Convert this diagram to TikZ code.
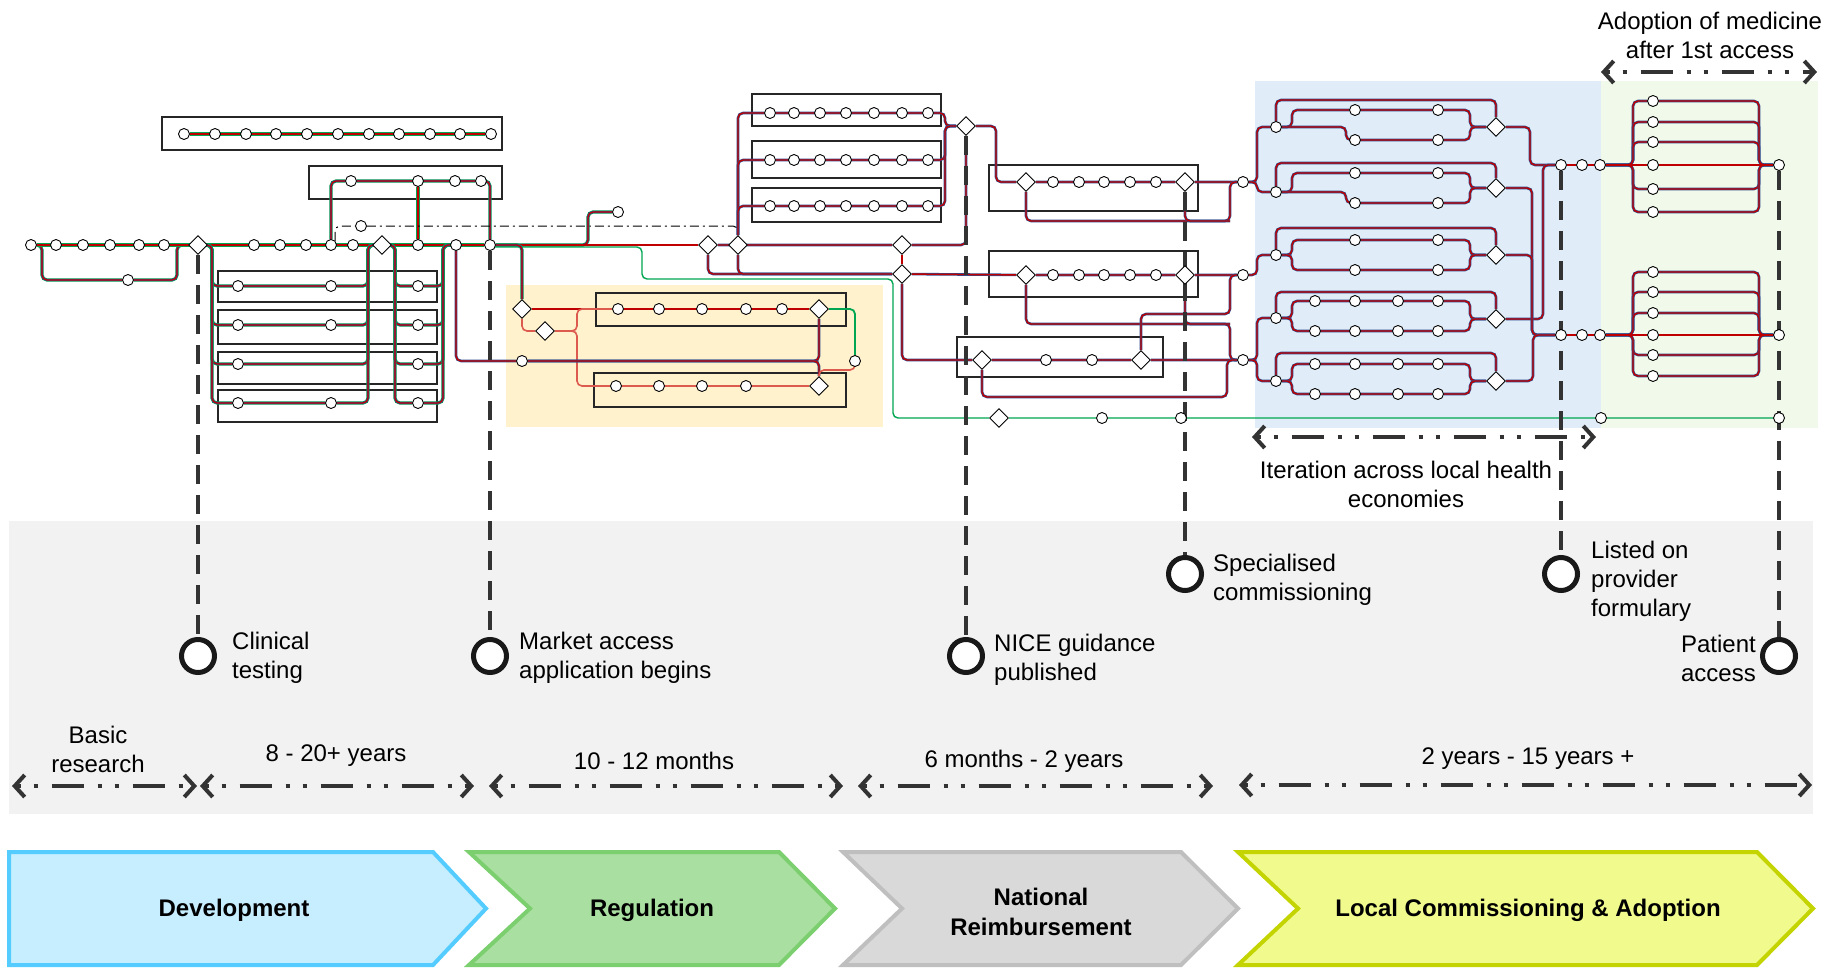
\documentclass[tikz,border=0pt]{standalone}
\usepackage{fontspec}
\setmainfont{Liberation Sans}
\usetikzlibrary{shapes.geometric,arrows.meta}
\definecolor{cnavy}{HTML}{2E4D8F}
\definecolor{cred}{HTML}{C00000}
\definecolor{cgreen}{HTML}{00A651}
\definecolor{csalmon}{HTML}{DC5A4E}
\definecolor{cdash}{HTML}{333333}
\definecolor{bandgrey}{HTML}{F2F2F2}
\definecolor{zoneyellow}{HTML}{FFF2CC}
\definecolor{zoneblue}{HTML}{E0ECF7}
\definecolor{zonegreen}{HTML}{F1F9EA}
\definecolor{devfill}{HTML}{C6EEFF}
\definecolor{devline}{HTML}{55CCFF}
\definecolor{regfill}{HTML}{A9DFA0}
\definecolor{regline}{HTML}{7CCF6E}
\definecolor{natfill}{HTML}{D9D9D9}
\definecolor{natline}{HTML}{BFBFBF}
\definecolor{locfill}{HTML}{F1FA8C}
\definecolor{locline}{HTML}{C3D400}
\pgfdeclarelayer{bg}
\pgfdeclarelayer{fg}
\pgfsetlayers{bg,main,fg}
\begin{document}
\begin{tikzpicture}[x=1pt,y=-1pt,
  stn/.style={circle,draw=black,line width=0.9pt,fill=white,inner sep=0pt,minimum size=11pt},
  dmd/.style={diamond,draw=black,line width=0.9pt,fill=white,inner sep=0pt,minimum width=19pt,minimum height=19pt},
  tri/.style={rounded corners=5pt,draw=cnavy,line width=2.2pt,preaction={draw=cgreen,line width=3.2pt},postaction={draw=cred,line width=1.2pt}},
  bi/.style={rounded corners=5pt,draw=cnavy,line width=2.6pt,postaction={draw=cred,line width=1.4pt}},
  rg/.style={rounded corners=5pt,draw=cgreen,line width=2.4pt,postaction={draw=cred,line width=1.1pt}},
  redl/.style={rounded corners=5pt,draw=csalmon,line width=1.6pt},
  grn/.style={rounded corners=5pt,draw=cgreen,line width=1.4pt},
  pbox/.style={draw=black!85,line width=1.1pt},
  dashdot/.style={draw=black,line width=1pt,rounded corners=5pt,dash pattern=on 9pt off 4pt on 2pt off 4pt},
  mline/.style={draw=cdash,line width=4pt,dash pattern=on 19pt off 11pt},
  mstone/.style={circle,draw=black!90,line width=5pt,fill=white,minimum size=33pt,inner sep=0pt},
  tspan/.style={draw=cdash,line width=4pt,dash pattern=on 4pt off 13pt on 4pt off 14pt on 32pt off 14pt,{Straight Barb[length=10pt,width=22pt]}-{Straight Barb[length=10pt,width=22pt]}},
  lbl/.style={font={\fontsize{24}{29}\selectfont},inner sep=0pt},
  phase/.style={line width=4pt,line join=miter},
  phaselbl/.style={font={\fontsize{24}{30}\selectfont\bfseries},align=center,inner sep=0pt}
]
\useasboundingbox (0,0) rectangle (1837,969);

% ---------- background zones ----------
\begin{pgfonlayer}{bg}
  \fill[bandgrey] (9,521) rectangle (1813,814);
  \fill[zoneyellow] (506,285) rectangle (883,427);
  \fill[zoneblue] (1255,81) rectangle (1601,428);
  \fill[zonegreen] (1601,81) rectangle (1818,428);
\end{pgfonlayer}

% ---------- stations and interchanges ----------
\begin{pgfonlayer}{fg}
  \foreach \n/\x/\y in {
    a1/31/245,a2/56/245,a3/83/245,a4/110/245,a5/139/245,a6/164/245,al/128/280,
    b1/254/245,b2/280/245,b3/306/245,b4/331/245,b5/353/245,b6/418/245,b7/456/245,b8/490/245,
    t1/184/134,t2/215/134,t3/246/134,t4/276/134,t5/307/134,t6/338/134,t7/369/134,t8/399/134,t9/430/134,t10/460/134,t11/491/134,
    c1/351/181,c2/418/181,c3/455/181,c4/481/181,dd1/361/226,
    r1a/238/286,r1b/331/286,r1c/418/286,
    r2a/238/325,r2b/331/325,r2c/418/325,
    r3a/238/364,r3c/418/364,
    r4a/238/403,r4b/331/403,r4c/418/403,
    sb/618/212,y0/522/361,yc/855/361,
    y1a/618/309,y1b/659/309,y1c/702/309,y1d/746/309,y1e/782/309,
    y2a/616/386,y2b/659/386,y2c/702/386,y2d/746/386,
    n1h/1243/182,n2h/1243/275,n3b/1046/360,n3c/1092/360,n3h/1243/360,
    g2/1102/418,g3/1181/418,g4/1601/418,g5/1779/418,
    h1/1276/127,h2/1276/192,h3/1276/255,h4/1276/318,h5/1276/381,
    o1/1561/165,o2/1582/165,o3/1600/165,o4/1561/335,o5/1582/335,o6/1600/335,
    p1/1653/101,p2/1653/122,p3/1653/142,p4/1653/165,p5/1653/189,p6/1653/212,
    p7/1653/272,p8/1653/292,p9/1653/313,p10/1653/335,p11/1653/355,p12/1653/376,
    q1/1779/165,q2/1779/335}
    \node[stn] (\n) at (\x,\y) {};
  \foreach \r/\y in {ta/113,tb/160,tc/206}
    \foreach \i/\x in {1/770,2/794,3/820,4/846,5/874,6/902,7/928}
      \node[stn] (\r\i) at (\x,\y) {};
  \foreach \r/\y in {n1/182,n2/275}
    \foreach \i/\x in {b/1053,c/1079,d/1104,e/1130,f/1156}
      \node[stn] (\r\i) at (\x,\y) {};
  \foreach \hb/\ym/\yl in {1/110/140,2/173/203,3/240/270} {
    \node[stn] (k\hb m1) at (1355,\ym) {};
    \node[stn] (k\hb m2) at (1438,\ym) {};
    \node[stn] (k\hb l1) at (1355,\yl) {};
    \node[stn] (k\hb l2) at (1438,\yl) {};
  }
  \foreach \hb/\ym/\yl in {4/301/331,5/364/394}
    \foreach \i/\x in {1/1315,2/1355,3/1398,4/1438} {
      \node[stn] (k\hb m\i) at (\x,\ym) {};
      \node[stn] (k\hb l\i) at (\x,\yl) {};
    }
  \foreach \n/\x/\y in {d1/198/245,d2/382/245,yd0/522/309,ydm/545/331,yd1/819/309,yd2/819/386,
    e1/708/245,e2/738/245,e3/902/245,e4/902/274,f0/966/126,n1a/1026/182,n1g/1185/182,
    n2a/1026/275,n2g/1185/275,n3a/982/360,n3d/1141/360,g1/999/418,
    D1/1496/127,D2/1496/188,D3/1496/255,D4/1496/319,D5/1496/381}
    \node[dmd] (\n) at (\x,\y) {};
\end{pgfonlayer}

% ---------- boxes grouping stations ----------
\draw[pbox] (162,117) rectangle (502,150);
\draw[pbox] (309,166) rectangle (502,199);
\foreach \ya/\yb in {271/302,310/344,352/384,390/422}
  \draw[pbox] (218,\ya) rectangle (437,\yb);
\draw[pbox] (596,293) rectangle (846,326);
\draw[pbox] (594,373) rectangle (846,407);
\draw[pbox] (752,94) rectangle (941,126);
\draw[pbox] (752,141) rectangle (941,178);
\draw[pbox] (752,188) rectangle (941,222);
\draw[pbox] (989,165) rectangle (1198,211);
\draw[pbox] (989,251) rectangle (1198,297);
\draw[pbox] (957,337) rectangle (1163,377);

% ---------- development lines ----------
\draw[tri] (t1) -- (t11);
\draw[tri] (a1) -- (42,245) |- (al) -- (177,280) |- (d1);
\draw[tri] (a1) -- (b8);
\draw[tri] (b4) |- (c1) -- (c4) -| (b8);
\draw[tri] (c2) -- (b6);
\draw[dashdot] (b4.north east) |- (dd1) -- (738,226) -- (e2);
\draw[tri] (d1) -- (212,245) |- (r1a) -- (r1b) -- (368,286) |- (d2);
\draw[tri] (d1) -- (212,245) |- (r2a) -- (r2b) -- (368,325) |- (d2);
\draw[tri] (d1) -- (212,245) |- (r3a) -- (368,364) |- (d2);
\draw[tri] (d1) -- (212,245) |- (r4a) -- (r4b) -- (368,403) |- (d2);
\foreach \c/\y in {r1c/286,r2c/325,r3c/364,r4c/403}
  \draw[tri] (d2) -- (395,245) |- (\c) -- (443,\y) |- (b7);
\draw[tri] (b8) -- (588,245) |- (sb);

% ---------- regulation lines ----------
\draw[bi] (b8) -- (e1);
\draw[grn] (b8) ++(0,2) -- (642,247) -- (642,279) -- (893,279) -- (893,418) -- (g1) -- (g2) -- (g3) -- (g4) -- (g5);
\draw[tri] (b8) -| (yd0);
\draw[rg] (yd0) -- (y1a) -- (y1e) -- (yd1);
\draw[redl] (yd0) |- (ydm);
\draw[redl] (ydm) -- (577,331) |- (y1a);
\draw[redl] (ydm) -- (577,331) |- (y2a);
\draw[redl] (y2a) -- (yd2);
\draw[bi] (b7) |- (y0);
\draw[bi] (y0) -| (yd1);
\draw[bi] (y0) -| (yd2);
\draw[grn,line width=1.8pt] (yd1) -| (yc);
\draw[redl] (yc) -- (855,370) -| (yd2);

% ---------- national reimbursement lines ----------
\draw[bi] (e1) -- (e3) -| (f0);
\draw[bi] (e1) |- (e4);
\draw[bi] (e2) |- (e4);
\draw[bi] (e3) -- (e4);
\draw[bi] (e2) |- (ta1) -- (ta7) -- (945,113) |- (f0);
\draw[bi] (e2) |- (tb1) -- (tb7) -- (945,160) |- (f0);
\draw[bi] (e2) |- (tc1) -- (tc7) -- (945,206) |- (f0);
\draw[bi] (f0) -- (996,126) |- (n1a) -- (n1g) -- (n1h);
\draw[bi] (n1a) |- (1230,221) |- (n1h);
\draw[bi] (n1g) |- (1230,221);
\draw[bi] (e4) -- (n2a) -- (n2g) -- (n2h);
\draw[bi] (n2a) |- (1230,324) |- (n3h);
\draw[bi] (n2g) |- (1230,324);
\draw[bi] (e4) |- (n3a) -- (n3d) -- (n3h);
\draw[bi] (n3d) |- (1230,314) |- (n2h);
\draw[bi] (n3a) |- (1227,397) |- (n3h);

% ---------- local health economies ----------
\draw[bi] (n1h) -- (1257,182) |- (h1);
\draw[bi] (n1h) -- (1257,182) |- (h2);
\draw[bi] (n2h) -- (1257,275) |- (h3);
\draw[bi] (n3h) -- (1257,360) |- (h4);
\draw[bi] (n3h) -- (1257,360) |- (h5);
% hubs with two stations per branch
\draw[bi] (h1) |- (1496,100) -- (D1);
\draw[bi] (h1) -- (1292,127) |- (k1m1) -- (k1m2) -- (1470,110) |- (D1);
\draw[bi] (h1) -- (1346,127) |- (k1l1) -- (k1l2) -- (1470,140) |- (D1);
\draw[bi] (h2) |- (1496,163) -- (D2);
\draw[bi] (h2) -- (1292,192) |- (k2m1) -- (k2m2) -- (1470,173) |- (D2);
\draw[bi] (h2) -- (1346,192) |- (k2l1) -- (k2l2) -- (1470,203) |- (D2);
\draw[bi] (h3) |- (1496,228) -- (D3);
\draw[bi] (h3) -- (1292,255) |- (k3m1) -- (k3m2) -- (1470,240) |- (D3);
\draw[bi] (h3) -- (1292,255) |- (k3l1) -- (k3l2) -- (1470,270) |- (D3);
% hubs with four stations per branch
\draw[bi] (h4) |- (1496,292) -- (D4);
\draw[bi] (h4) -- (1292,318) |- (k4m1) -- (k4m4) -- (1470,301) |- (D4);
\draw[bi] (h4) -- (1292,318) |- (k4l1) -- (k4l4) -- (1470,331) |- (D4);
\draw[bi] (h5) |- (1496,353) -- (D5);
\draw[bi] (h5) -- (1292,381) |- (k5m1) -- (k5m4) -- (1470,364) |- (D5);
\draw[bi] (h5) -- (1292,381) |- (k5l1) -- (k5l4) -- (1470,394) |- (D5);
% merge towards the two formulary stations
\draw[bi] (D1) -- (1530,127) |- (o1);
\draw[bi] (D4) -- (1543,319) |- (o1);
\draw[bi] (D2) -- (1532,188) |- (o4);
\draw[bi] (D3) -- (1532,255) |- (o4);
\draw[bi] (D5) -- (1533,381) |- (o4);
\draw[bi] (o1) -- (o2) -- (o3);
\draw[bi] (o4) -- (o5) -- (o6);

% ---------- adoption fans ----------
\foreach \p/\y in {p1/101,p2/122,p3/142,p5/189,p6/212}
  \draw[bi] (o3) -- (1633,165) |- (\p) -- (1759,\y) |- (q1);
\draw[bi] (o3) -- (p4) -- (q1);
\foreach \p/\y in {p7/272,p8/292,p9/313,p11/355,p12/376}
  \draw[bi] (o6) -- (1633,335) |- (\p) -- (1759,\y) |- (q2);
\draw[bi] (o6) -- (p10) -- (q2);

% ---------- milestones ----------
\begin{pgfonlayer}{fg}
  \node[mstone] (m1) at (198,656) {};
  \node[mstone] (m2) at (490,656) {};
  \node[mstone] (m3) at (966,656) {};
  \node[mstone] (m4) at (1185,574) {};
  \node[mstone] (m5) at (1561,574) {};
  \node[mstone] (m6) at (1779,656) {};
\end{pgfonlayer}
\draw[mline] (d1.south) -- (m1.north);
\draw[mline] (b8.south) -- (m2.north);
\draw[mline] (f0.south) -- (m3.north);
\draw[mline] (n1g.south) -- (m4.north);
\draw[mline] (o1.south) -- (m5.north);
\draw[mline] (q1.south) -- (m6.north);

\node[lbl,anchor=west,align=left] (m1t) at (232,658) {Clinical\\testing};
\node[lbl,anchor=west,align=left] (m2t) at (519,658) {Market access\\application begins};
\node[lbl,anchor=west,align=left] (m3t) at (994,660) {NICE guidance\\published};
\node[lbl,anchor=west,align=left] (m4t) at (1213,580) {Specialised\\commissioning};
\node[lbl,anchor=west,align=left] (m5t) at (1591,581) {Listed on\\provider\\formulary};
\node[lbl,anchor=east,align=right] (m6t) at (1756,658) {Patient\\access};

% ---------- spans ----------
\coordinate (it1) at (1252,437);
\coordinate (it2) at (1596,437);
\draw[tspan] (it1) -- (it2);
\node[lbl,align=center] (itt) at (1406,484) {Iteration across local health\\economies};
\coordinate (ad1) at (1601,72);
\coordinate (ad2) at (1817,72);
\draw[tspan] (ad1) -- (ad2);
\node[lbl,align=center] (adt) at (1710,35) {Adoption of medicine\\after 1st access};

\coordinate (s0) at (12,786);
\coordinate (s1a) at (197,786);
\coordinate (s1b) at (200,786);
\coordinate (s2a) at (474,786);
\coordinate (s2b) at (489,786);
\coordinate (s3a) at (843,786);
\coordinate (s3b) at (858,786);
\coordinate (s4a) at (1213,786);
\coordinate (s4b) at (1239,785);
\coordinate (s5) at (1812,785);
\draw[tspan] (s0) -- (s1a);
\draw[tspan] (s1b) -- (s2a);
\draw[tspan] (s2b) -- (s3a);
\draw[tspan] (s3b) -- (s4a);
\draw[tspan] (s4b) -- (s5);
\node[lbl,align=center] (sl1) at (98,749) {Basic\\research};
\node[lbl] (sl2) at (336,756) {8 - 20+ years};
\node[lbl] (sl3) at (654,761) {10 - 12 months};
\node[lbl] (sl4) at (1024,761) {6 months - 2 years};
\node[lbl] (sl5) at (1528,759) {2 years - 15 years +};

% ---------- phase chevrons ----------
\draw[phase,draw=devline,fill=devfill] (9,852) -- (433,852) -- (486,908.5) -- (433,965) -- (9,965) -- cycle;
\draw[phase,draw=regline,fill=regfill] (469,852) -- (779,852) -- (835,908.5) -- (779,965) -- (469,965) -- (530,908.5) -- cycle;
\draw[phase,draw=natline,fill=natfill] (843,852) -- (1181,852) -- (1238,908.5) -- (1181,965) -- (843,965) -- (902,908.5) -- cycle;
\draw[phase,draw=locline,fill=locfill] (1238,852) -- (1757,852) -- (1813,908.5) -- (1757,965) -- (1238,965) -- (1298,908.5) -- cycle;
\node[phaselbl] (ph1) at (234,910) {Development};
\node[phaselbl] (ph2) at (652,910) {Regulation};
\node[phaselbl] (ph3) at (1041,912) {National\\Reimbursement};
\node[phaselbl] (ph4) at (1528,910) {Local Commissioning \& Adoption};
\end{tikzpicture}
\end{document}
